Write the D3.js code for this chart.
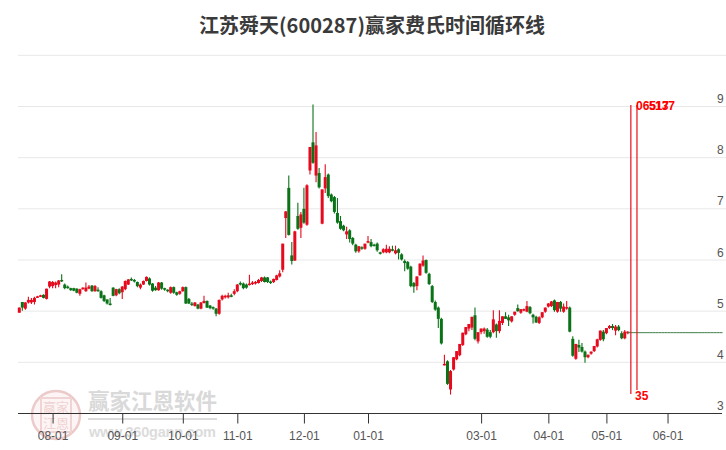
<!DOCTYPE html>
<html><head><meta charset="utf-8">
<script src="https://cdnjs.cloudflare.com/ajax/libs/d3/7.8.5/d3.min.js"></script>
<style>html,body{margin:0;padding:0;background:#fff;overflow:hidden}svg{display:block}</style>
</head><body><svg id="c" width="726" height="450"></svg>
<script>
const titleText = "江苏舜天(600287)赢家费氏时间循环线";
const yTicks = [3,4,5,6,7,8,9,10];
const yLabels = [3,4,5,6,7,8,9];
const tickIdx = [11,34,54,72,94,115,152,174,193,213];
const tickLabels = ["08-01","09-01","10-01","11-01","12-01","01-01","03-01","04-01","05-01","06-01"];
const opens = [4.96,5.17,5.04,5.16,5.16,5.17,5.26,5.28,5.31,5.23,5.47,5.48,5.50,5.51,5.60,5.51,5.47,5.44,5.44,5.43,5.33,5.42,5.38,5.43,5.49,5.38,5.41,5.38,5.30,5.22,5.14,5.45,5.30,5.42,5.36,5.42,5.51,5.62,5.60,5.56,5.45,5.51,5.58,5.63,5.53,5.45,5.40,5.55,5.44,5.41,5.35,5.46,5.36,5.33,5.38,5.46,5.23,5.14,5.09,5.12,5.04,5.15,5.19,5.10,5.07,5.04,4.94,5.22,5.26,5.26,5.30,5.33,5.38,
5.54,5.53,5.51,5.50,5.52,5.53,5.54,5.58,5.65,5.65,5.57,5.56,5.60,5.67,
5.80,6.81,7.40,6.08,5.98,6.85,6.62,6.99,6.68,7.74,8.29,7.64,7.69,6.70,7.39,7.66,7.27,7.22,6.91,6.75,6.66,6.49,6.57,6.42,6.29,6.16,6.24,6.21,6.33,6.34,6.29,6.31,6.14,6.14,6.14,6.14,6.20,6.12,6.20,6.10,5.97,5.95,5.86,5.54,5.48,5.69,5.88,5.99,5.72,5.48,5.17,5.06,4.84,3.94,4.01,3.46,3.85,4.05,4.13,4.33,4.54,4.65,4.67,4.91,4.40,4.58,4.60,4.63,4.58,4.58,4.73,4.60,4.76,4.89,4.87,4.79,4.92,5.05,4.96,5.01,4.98,5.07,4.92,4.88,4.76,4.87,4.98,5.08,5.09,5.20,4.98,5.17,4.98,5.04,5.06,4.45,4.06,4.33,4.29,4.20,4.09,4.16,4.21,4.30,4.43,4.59,4.56,4.66,4.70,4.61,4.69,4.56,4.46,4.56];
const highs = [5.06,5.17,5.17,5.27,5.25,5.27,5.29,5.31,5.32,5.43,5.58,5.58,5.57,5.60,5.71,5.53,5.49,5.45,5.45,5.44,5.43,5.46,5.55,5.50,5.50,5.50,5.46,5.40,5.31,5.22,5.25,5.46,5.43,5.44,5.48,5.59,5.62,5.65,5.62,5.57,5.53,5.59,5.67,5.65,5.54,5.48,5.56,5.56,5.45,5.42,5.47,5.47,5.37,5.39,5.47,5.47,5.25,5.17,5.17,5.13,5.17,5.29,5.20,5.11,5.08,5.05,5.22,5.31,5.31,5.35,5.33,5.42,5.52,
5.57,5.55,5.53,5.70,5.58,5.58,5.62,5.66,5.67,5.66,5.59,5.63,5.70,5.79,
6.31,6.95,7.64,6.34,6.56,7.11,6.93,7.40,7.47,8.20,9.03,8.49,7.79,7.37,7.86,7.68,7.29,7.24,7.20,6.85,6.68,6.64,6.59,6.44,6.31,6.26,6.26,6.31,6.46,6.40,6.31,6.33,6.15,6.22,6.29,6.26,6.27,6.27,6.22,6.12,6.00,5.97,5.88,5.56,5.67,5.92,6.08,6.00,5.74,5.50,5.20,5.08,4.86,4.14,4.03,3.84,4.09,4.21,4.35,4.57,4.68,4.74,4.88,5.06,4.58,4.65,4.67,4.66,4.62,5.01,4.75,5.01,4.89,4.97,4.92,4.89,4.98,5.12,5.03,5.04,5.19,5.09,4.94,4.90,4.89,4.97,5.06,5.15,5.19,5.22,5.17,5.19,5.14,5.19,5.08,4.50,4.35,4.43,4.37,4.22,4.14,4.20,4.31,4.45,4.61,4.62,4.66,4.72,4.74,4.72,4.72,4.60,4.62,4.60];
const lows = [4.96,5.00,5.02,5.14,5.13,5.12,5.25,5.27,5.24,5.22,5.44,5.44,5.44,5.46,5.56,5.42,5.43,5.39,5.38,5.34,5.29,5.41,5.37,5.42,5.37,5.37,5.37,5.24,5.17,5.12,5.10,5.28,5.28,5.32,5.23,5.40,5.50,5.58,5.55,5.46,5.42,5.50,5.57,5.49,5.37,5.39,5.39,5.41,5.39,5.36,5.33,5.33,5.29,5.31,5.37,5.13,5.13,5.09,5.08,5.03,5.03,5.14,5.05,5.03,5.02,4.89,4.92,5.20,5.24,5.24,5.26,5.30,5.36,
5.49,5.42,5.43,5.49,5.50,5.51,5.53,5.56,5.55,5.54,5.52,5.54,5.59,5.65,
5.75,6.42,6.47,5.90,5.97,6.58,6.42,6.70,6.66,7.66,7.87,7.51,7.39,6.69,7.30,7.20,7.12,6.90,6.70,6.58,6.55,6.40,6.33,6.28,6.13,6.13,6.19,6.19,6.32,6.24,6.26,6.15,6.10,6.12,6.12,6.12,6.16,6.10,6.00,5.98,5.77,5.80,5.46,5.35,5.40,5.68,5.86,5.72,5.50,5.15,5.00,4.66,4.34,3.93,3.55,3.36,3.83,4.03,4.11,4.31,4.52,4.60,4.62,4.42,4.36,4.54,4.55,4.47,4.46,4.56,4.47,4.56,4.72,4.84,4.70,4.77,4.90,4.98,4.94,4.99,4.97,4.93,4.75,4.76,4.74,4.85,4.96,5.06,5.07,4.98,4.96,4.98,4.96,5.02,4.58,4.10,4.04,4.19,4.18,3.98,4.07,4.14,4.19,4.28,4.41,4.40,4.54,4.64,4.62,4.52,4.60,4.44,4.44,4.54];
const closes = [5.06,5.06,5.16,5.21,5.21,5.25,5.28,5.30,5.25,5.43,5.57,5.56,5.55,5.59,5.58,5.44,5.44,5.40,5.39,5.35,5.42,5.45,5.45,5.47,5.38,5.48,5.38,5.25,5.19,5.14,5.12,5.29,5.42,5.34,5.47,5.58,5.61,5.60,5.57,5.48,5.51,5.58,5.66,5.51,5.39,5.40,5.55,5.43,5.41,5.38,5.46,5.35,5.31,5.38,5.46,5.14,5.14,5.12,5.16,5.04,5.16,5.19,5.06,5.05,5.04,4.94,5.21,5.29,5.29,5.30,5.27,5.38,5.51,
5.51,5.44,5.45,5.53,5.55,5.56,5.60,5.65,5.56,5.56,5.54,5.62,5.69,5.73,
6.31,6.94,6.48,5.97,6.55,6.60,6.88,6.72,7.45,8.20,7.89,8.23,7.41,7.37,7.61,7.24,7.14,6.93,6.72,6.60,6.57,6.55,6.40,6.31,6.16,6.26,6.21,6.31,6.36,6.26,6.27,6.18,6.12,6.20,6.21,6.21,6.17,6.18,6.13,6.00,5.93,5.82,5.48,5.47,5.67,5.92,5.98,5.74,5.52,5.17,5.02,4.84,4.36,3.96,3.57,3.82,4.09,4.21,4.35,4.57,4.68,4.74,4.88,4.45,4.58,4.65,4.65,4.49,4.49,4.83,4.60,4.80,4.89,4.84,4.81,4.89,4.98,4.99,5.03,5.03,5.09,4.95,4.87,4.77,4.87,4.97,5.06,5.14,5.18,5.01,5.17,5.04,5.08,5.07,4.59,4.12,4.35,4.28,4.20,4.09,4.14,4.20,4.31,4.44,4.61,4.44,4.66,4.70,4.66,4.69,4.62,4.46,4.59,4.59];
const tailValues = [4.58,4.58,4.58,4.58,4.58,4.58,4.58,4.58,4.58,4.58,4.58,4.58,4.58,4.58,4.58,4.58,4.58,4.58,4.58,4.58,4.58,4.58,4.58,4.58,4.58,4.58,4.58,4.58,4.58,4.58,4.58,4.58];
const cycleIdx = [201,203];
const cycleHigh = 9.02;
const cycleLow = [3.37,3.45];
const topLabels = ["065","517","137"];
const bottomLabel = "35";

const n = opens.length, red="#e60a1e", green="#0a7318";
const peakIdx = highs.indexOf(d3.max(highs));
const x = d3.scaleLinear().domain([0,peakIdx,n-1]).range([19.3,313,627.8]);
const y = d3.scaleLinear().domain([3,9]).range([413,106]);
const svg = d3.select("#c");
const f = "'Liberation Sans',Arial,sans-serif", cjk="'Noto Sans CJK SC',sans-serif";

svg.append("text").attr("x",372).attr("y",33).attr("text-anchor","middle")
  .attr("font-family",cjk).attr("font-size",20).attr("font-weight",700).attr("fill","#3a3a3a").text(titleText);

svg.selectAll("line.grid").data(yTicks.slice(1)).join("line").attr("class","grid")
  .attr("x1",18).attr("x2",726).attr("y1",d=>y(d)+.5).attr("y2",d=>y(d)+.5).attr("stroke","#e8e8e8");

// watermark
const wm = svg.append("g");
wm.append("circle").attr("cx",56).attr("cy",415).attr("r",24).attr("fill","#fdf5f5").attr("stroke","#eccaca").attr("stroke-width",2.5);
wm.append("rect").attr("x",41).attr("y",398).attr("width",30).attr("height",34).attr("fill","none").attr("stroke","#f0d4d4").attr("stroke-width",2);
wm.append("text").attr("x",56).attr("y",412).attr("text-anchor","middle").attr("font-family",cjk).attr("font-size",13).attr("fill","#efd2d2").text("赢家");
wm.append("text").attr("x",56).attr("y",428).attr("text-anchor","middle").attr("font-family",cjk).attr("font-size",13).attr("fill","#efd2d2").text("江恩");
wm.append("text").attr("x",88).attr("y",409).attr("font-family",cjk).attr("font-size",21.5).attr("font-weight",700).attr("fill","#d9d9d9").text("赢家江恩软件");
wm.append("rect").attr("x",88).attr("y",418).attr("width",129).attr("height",2).attr("fill","#dcdcdc");
wm.append("text").attr("x",89).attr("y",437).attr("font-family",f).attr("font-size",14.5).attr("font-weight",700).attr("fill","#dcdcdc").attr("textLength",127).text("www.360gann.com");

// candles
const idx = d3.range(n);
svg.selectAll("line.w").data(idx).join("line").attr("class","w")
  .attr("x1",i=>x(i)).attr("x2",i=>x(i)).attr("y1",i=>y(highs[i])).attr("y2",i=>y(lows[i]))
  .attr("stroke",i=>closes[i]>=opens[i]?red:green).attr("stroke-width",1.1);
svg.selectAll("rect.b").data(idx).join("rect").attr("class","b")
  .attr("x",i=>x(i)-1.5).attr("width",3)
  .attr("y",i=>y(Math.max(opens[i],closes[i])))
  .attr("height",i=>Math.max(1.5,Math.abs(y(opens[i])-y(closes[i]))))
  .attr("fill",i=>closes[i]>=opens[i]?red:green);

// flat tail after the last candle
svg.append("path").attr("fill","none").attr("stroke","#3f7f4a").attr("stroke-width",1)
  .attr("d",d3.line().x((d,i)=>x(n-1+i)).y(d=>y(d)+.5)(tailValues));

// cycle lines
svg.selectAll("line.cy").data(cycleIdx).join("line").attr("class","cy")
  .attr("x1",d=>x(d)).attr("x2",d=>x(d)).attr("y1",y(cycleHigh)).attr("y2",(d,i)=>y(cycleLow[i]))
  .attr("stroke","#e8101c").attr("stroke-width",1.2);
const topX = [636,649,655];
svg.selectAll("text.top").data(topLabels).join("text").attr("class","top")
  .attr("x",(d,i)=>topX[i]).attr("y",110).attr("font-family",f).attr("font-size",12).attr("font-weight",700).attr("fill","#f00").text(d=>d);
svg.append("text").attr("x",635).attr("y",400).attr("font-family",f).attr("font-size",12).attr("font-weight",700).attr("fill","#f00").text(bottomLabel);

// axes
const ax = svg.append("g").attr("transform","translate(0,413.5)")
  .call(d3.axisBottom(x).tickValues(tickIdx).tickSize(10).tickPadding(8).tickFormat((d,i)=>tickLabels[i]));
ax.select(".domain").attr("d","M18,0H722").attr("stroke","#333");
ax.selectAll(".tick line").attr("stroke","#333");
ax.selectAll("text").attr("font-family",f).attr("font-size",12).attr("fill","#555");
svg.selectAll("text.yl").data(yLabels).join("text").attr("class","yl")
  .attr("x",717).attr("y",d=>y(d)-3).attr("font-family",f).attr("font-size",12).attr("fill","#555").text(d=>d);
</script></body></html>
